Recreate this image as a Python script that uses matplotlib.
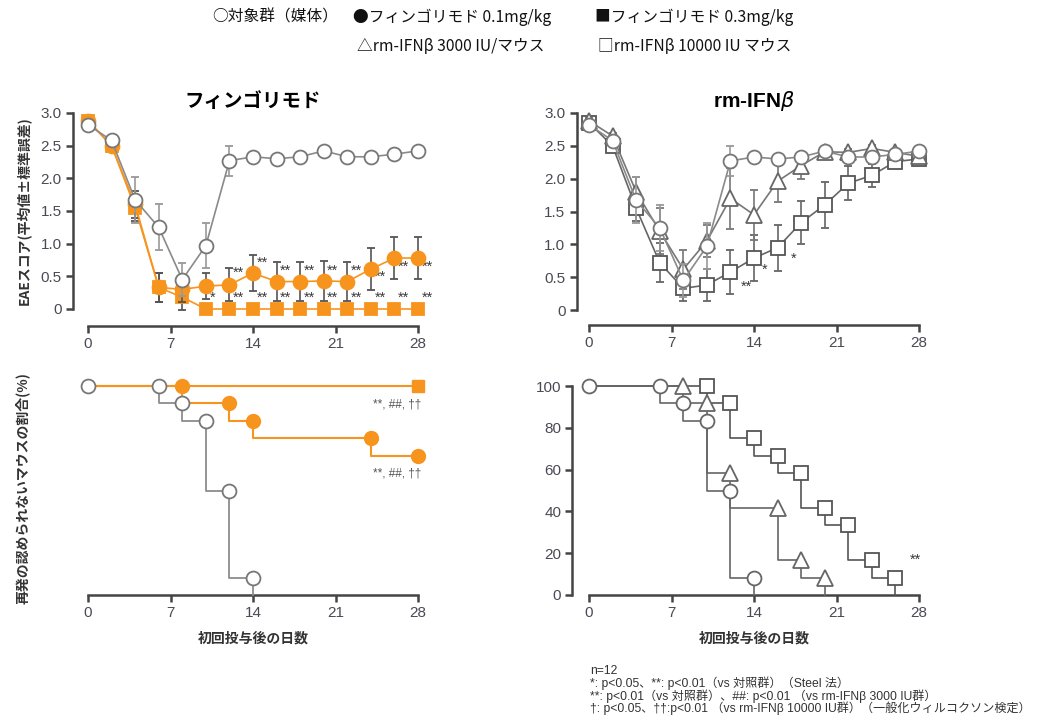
import matplotlib
matplotlib.use("Agg")
import matplotlib.pyplot as plt
import numpy as np

plt.rcParams['font.family'] = ['Liberation Sans', 'Noto Sans CJK JP', 'DejaVu Sans']

# ---------------- data ----------------
days = [0, 2, 4, 6, 8, 10, 12, 14, 16, 18, 20, 22, 24, 26, 28]
ctrl = [2.82, 2.58, 1.67, 1.25, 0.45, 0.97, 2.27, 2.33, 2.30, 2.33, 2.42, 2.33, 2.33, 2.37, 2.42]
ctrl_err = [0.08, 0.05, 0.35, 0.35, 0.25, 0.35, 0.23, 0.05, 0.05, 0.05, 0.05, 0.05, 0.05, 0.05, 0.05]
fin01 = [2.88, 2.50, 1.60, 0.33, 0.30, 0.35, 0.37, 0.55, 0.42, 0.42, 0.43, 0.42, 0.61, 0.78, 0.78]
fin01_err = [0.05, 0.05, 0.20, 0.22, 0.20, 0.20, 0.25, 0.28, 0.30, 0.30, 0.30, 0.30, 0.32, 0.32, 0.32]
fin03 = [2.88, 2.50, 1.55, 0.33, 0.18, 0, 0, 0, 0, 0, 0, 0, 0, 0, 0]
fin03_err = [0.05, 0.05, 0.20, 0.22, 0.20, 0, 0, 0, 0, 0, 0, 0, 0, 0, 0]
ifn3000 = [2.88, 2.65, 1.80, 1.20, 0.62, 1.05, 1.70, 1.45, 1.96, 2.20, 2.41, 2.40, 2.46, 2.40, 2.34]
ifn3000_err = [0.05, 0.05, 0.22, 0.35, 0.30, 0.25, 0.47, 0.38, 0.32, 0.20, 0.05, 0.05, 0.05, 0.05, 0.05]
ifn10000 = [2.85, 2.50, 1.55, 0.72, 0.33, 0.38, 0.58, 0.79, 0.95, 1.33, 1.60, 1.93, 2.05, 2.26, 2.30]
ifn10000_err = [0.05, 0.05, 0.20, 0.30, 0.20, 0.25, 0.33, 0.35, 0.35, 0.33, 0.35, 0.26, 0.17, 0.10, 0.05]

# significance labels (top panels)
sig01_days = [12, 14, 16, 18, 20, 22, 24, 26, 28]
sig01_y = [0.56, 0.71, 0.58, 0.58, 0.59, 0.59, 0.49, 0.64, 0.64]
sig03_days = [10, 12, 14, 16, 18, 20, 22, 24, 26, 28]
sig03_lab = ['*', '**', '**', '**', '**', '**', '**', '**', '**', '**']
sig_ifn_days = [12.9, 14.7, 17.1]
sig_ifn_y = [0.36, 0.62, 0.78]
sig_ifn_lab = ['**', '*', '*']

# Kaplan-Meier (relapse-free %), marker times and levels
km_ctrl_t = [0, 6, 8, 10, 12, 14, 14]
km_ctrl_s = [100, 100, 91.7, 83.3, 50, 8.3, 0]
km_f01_t = [0, 8, 12, 14, 24, 28]
km_f01_s = [100, 100, 91.7, 83.3, 75, 66.7]
km_f03_t = [0, 28]
km_f03_s = [100, 100]
km_i3_t = [0, 8, 10, 12, 16, 18, 20, 20]
km_i3_s = [100, 100, 91.7, 58.3, 41.7, 16.7, 8.3, 0]
km_i10_t = [0, 10, 12, 14, 16, 18, 20, 22, 24, 26, 26]
km_i10_s = [100, 100, 91.7, 75, 66.7, 58.3, 41.7, 33.3, 16.7, 8.3, 0]

xticks = [0, 7, 14, 21, 28]
yticks_top = [0, 0.5, 1.0, 1.5, 2.0, 2.5, 3.0]
yticklabels_top = ['0', '0.5', '1.0', '1.5', '2.0', '2.5', '3.0']
yticks_bot = [0, 20, 40, 60, 80, 100]

legend_items = ['○対象群（媒体）', '●フィンゴリモド 0.1mg/kg', '■フィンゴリモド 0.3mg/kg',
                '△rm-IFNβ 3000 IU/マウス', '□rm-IFNβ 10000 IU マウス']

ORANGE = '#F7941D'
CGRAY = '#8a8a8a'
DGRAY = '#555555'
AX = '#444444'

fig = plt.figure(figsize=(10.64, 7.26), dpi=100)
W, H = 1064, 726

def axes_px(x0, x1, ytop, ybot):
    return fig.add_axes([x0 / W, 1 - ybot / H, (x1 - x0) / W, (ybot - ytop) / H])

def style(ax, yticks, ylabels, yoff, xoff, showy=True):
    for s in ['top', 'right']:
        ax.spines[s].set_visible(False)
    ax.spines['left'].set_position(('outward', yoff))
    ax.spines['bottom'].set_position(('outward', xoff))
    ax.spines['bottom'].set_bounds(0, 28)
    for s in ['left', 'bottom']:
        ax.spines[s].set_linewidth(1.8)
        ax.spines[s].set_color(AX)
    ax.set_xticks(xticks)
    ax.set_xticklabels([str(t) for t in xticks])
    ax.tick_params(axis='both', direction='out', length=5, width=1.8, color=AX,
                   labelsize=11, labelcolor='#4a4a55', pad=3)
    if showy:
        ax.set_yticks(yticks)
        ax.set_yticklabels(ylabels)
        ax.spines['left'].set_bounds(yticks[0], yticks[-1])
    else:
        ax.spines['left'].set_visible(False)
        ax.set_yticks([])
    ax.set_xlim(0, 28)
    ax.patch.set_visible(False)

def eplot(ax, y, e, mfc, mec, marker, ms, lc, ecol, z):
    ax.errorbar(days, y, yerr=e, color=lc, lw=1.2, marker=marker, ms=ms, mfc=mfc, mec=mec,
                mew=1.3, ecolor=ecol, elinewidth=1.2, capsize=3, capthick=1.2, zorder=z,
                clip_on=False)

SIGF = 10.5

# ---------------- top-left ----------------
ax1 = axes_px(88, 418, 113, 309)
ax1.set_ylim(0, 3.0)
style(ax1, yticks_top, yticklabels_top, 11, 12)
eplot(ax1, fin03, fin03_err, ORANGE, ORANGE, 's', 9, ORANGE, DGRAY, 3)
eplot(ax1, fin01, fin01_err, ORANGE, ORANGE, 'o', 10, ORANGE, DGRAY, 4)
eplot(ax1, ctrl, ctrl_err, 'white', '#777777', 'o', 10, CGRAY, '#999999', 5)
for d, yv in zip(sig01_days, sig01_y):
    ax1.text(d + 0.3, yv, '**', fontsize=SIGF, color='#3a3a3a', va='center', ha='left')
for d, lab in zip(sig03_days, sig03_lab):
    ax1.text(d + 0.3, 0.17, lab, fontsize=SIGF, color='#3a3a3a', va='center', ha='left')
ax1.set_title('フィンゴリモド', family=['Noto Sans CJK JP'], fontsize=14, fontweight='bold', pad=4)
ax1.set_ylabel('EAEスコア(平均値±標準誤差)', family=['Noto Sans CJK JP'], fontsize=10,
               fontweight='bold', color='#333333', labelpad=6)

# ---------------- top-right ----------------
ax2 = axes_px(589, 919, 113, 310)
ax2.set_ylim(0, 3.0)
style(ax2, yticks_top, yticklabels_top, 9, 11)
eplot(ax2, ifn10000, ifn10000_err, 'white', '#555555', 's', 10, '#666666', '#666666', 3)
eplot(ax2, ifn3000, ifn3000_err, 'white', '#666666', '^', 11, '#777777', '#777777', 4)
eplot(ax2, ctrl, ctrl_err, 'white', '#777777', 'o', 10, CGRAY, '#999999', 5)
for d, yv, lab in zip(sig_ifn_days, sig_ifn_y, sig_ifn_lab):
    ax2.text(d, yv, lab, fontsize=SIGF, color='#3a3a3a', va='center', ha='left')
ax2.set_title('rm-IFN$\\beta$', fontsize=15, fontweight='bold', pad=4)

# ---------------- bottom-left ----------------
ax3 = axes_px(88, 418, 386, 595)
ax3.set_ylim(0, 100)
style(ax3, yticks_bot, [str(v) for v in yticks_bot], 12, 0, showy=False)
ax3.step(km_ctrl_t, km_ctrl_s, where='pre', color='#8c8c8c', lw=1.3, zorder=3, clip_on=False)
ax3.plot(km_ctrl_t[:-1], km_ctrl_s[:-1], 'o', ms=10, mfc='white', mec='#777777', mew=1.3,
         zorder=6, clip_on=False)
ax3.step(km_f01_t, km_f01_s, where='pre', color=ORANGE, lw=1.5, zorder=4, clip_on=False)
ax3.plot(km_f01_t[1:], km_f01_s[1:], 'o', ms=10, color=ORANGE, zorder=5, clip_on=False)
ax3.step(km_f03_t, km_f03_s, where='pre', color=ORANGE, lw=1.5, zorder=4, clip_on=False)
ax3.plot(km_f03_t[1:], km_f03_s[1:], 's', ms=9, color=ORANGE, zorder=5, clip_on=False)
ax3.text(28.3, 91, '**, ##, ††', fontsize=8.5, color='#555555', ha='right', va='center')
ax3.text(28.3, 58, '**, ##, ††', fontsize=8.5, color='#555555', ha='right', va='center')
ax3.set_xlabel('初回投与後の日数', family=['Noto Sans CJK JP'], fontsize=10, fontweight='bold',
               color='#333333', labelpad=8)
ax3.set_ylabel('再発の認められないマウスの割合(%)', family=['Noto Sans CJK JP'], fontsize=10,
               fontweight='bold', color='#333333')
ax3.yaxis.set_label_coords(-58 / 330, 0.512)

# ---------------- bottom-right ----------------
ax4 = axes_px(589, 919, 386, 595)
ax4.set_ylim(0, 100)
style(ax4, yticks_bot, [str(v) for v in yticks_bot], 12, 0)
ax4.step(km_i10_t, km_i10_s, where='pre', color='#555555', lw=1.2, zorder=3, clip_on=False)
ax4.plot(km_i10_t[1:-1], km_i10_s[1:-1], 's', ms=10, mfc='white', mec='#555555', mew=1.3,
         zorder=4, clip_on=False)
ax4.step(km_i3_t, km_i3_s, where='pre', color='#666666', lw=1.2, zorder=3, clip_on=False)
ax4.plot(km_i3_t[1:-1], km_i3_s[1:-1], '^', ms=11, mfc='white', mec='#666666', mew=1.3,
         zorder=5, clip_on=False)
ax4.step(km_ctrl_t, km_ctrl_s, where='pre', color='#666666', lw=1.2, zorder=3, clip_on=False)
ax4.plot(km_ctrl_t[:-1], km_ctrl_s[:-1], 'o', ms=10, mfc='white', mec='#666666', mew=1.3,
         zorder=6, clip_on=False)
ax4.text(27.2, 17, '**', fontsize=SIGF, color='#3a3a3a', ha='left', va='center')
ax4.set_xlabel('初回投与後の日数', family=['Noto Sans CJK JP'], fontsize=10, fontweight='bold',
               color='#333333', labelpad=8)

# ---------------- legend text ----------------
LF = ['Noto Sans CJK JP', 'DejaVu Sans']
leg_pos = [(212, 17), (353, 17), (595, 17), (357, 46), (598, 46)]
for (lx, ly), txt in zip(leg_pos, legend_items):
    fig.text(lx / W, 1 - ly / H, txt, family=LF, fontsize=11.3, va='center', ha='left',
             color='#111111')

# ---------------- footnote ----------------
foot = ['n=12',
        '*: p<0.05、**: p<0.01（vs 対照群）（Steel 法）',
        '**: p<0.01（vs 対照群）、##: p<0.01 （vs rm-IFNβ 3000 IU群）',
        '†: p<0.05、††:p<0.01 （vs rm-IFNβ 10000 IU群）（一般化ウィルコクソン検定）']
FF = ['Liberation Sans', 'Noto Sans CJK JP', 'DejaVu Sans']
for i, line in enumerate(foot):
    fig.text(590 / W, 1 - (671 + 12.4 * i) / H, line, family=FF, fontsize=8.7, color='#333333',
             va='center', ha='left')

fig.savefig('out.png', dpi=100)
